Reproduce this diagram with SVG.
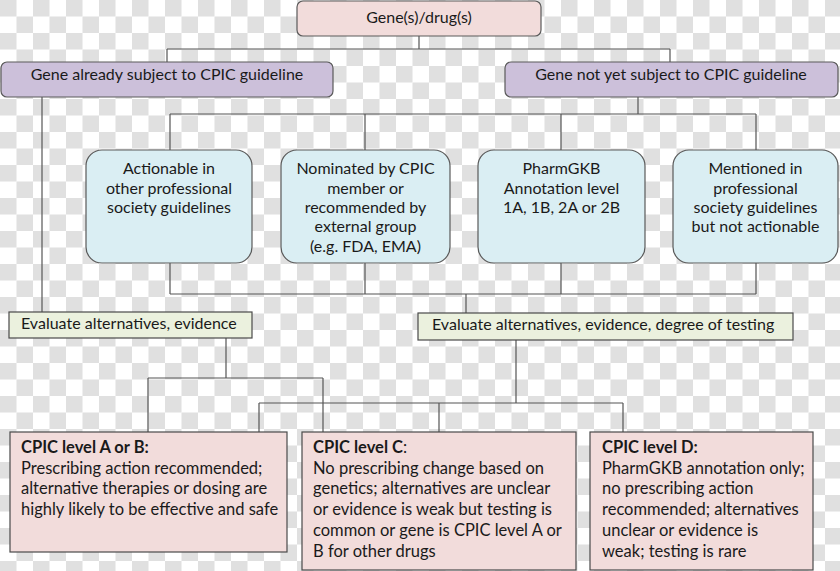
<svg xmlns="http://www.w3.org/2000/svg" width="840" height="571" viewBox="0 0 840 571">
<defs>
<pattern id="chk" width="33" height="33" patternUnits="userSpaceOnUse">
<rect width="33" height="33" fill="#ffffff"/>
<rect width="16.5" height="16.5" fill="#e0e0e0"/>
<rect x="16.5" y="16.5" width="16.5" height="16.5" fill="#e0e0e0"/>
</pattern>
</defs>
<style>
text{font-family:"Lato","Liberation Sans",sans-serif;fill:#1a1a1a;font-size:16px}
.c{text-anchor:middle}
.pink{fill:#f2dcdb;stroke:#5a5a5a;stroke-width:1.2}
.purple{fill:#ccc0da;stroke:#5a5a5a;stroke-width:1.2}
.blue{fill:#daeef3;stroke:#5a5a5a;stroke-width:1.2}
.green{fill:#ebf1de;stroke:#4a4a4a;stroke-width:1.2}
.lvl{fill:#f2dcdb;stroke:#4a4a4a;stroke-width:1.2}
.b{font-size:16.5px}
.bd{font-weight:bold}
#connectors path{fill:none;stroke:#555;stroke-width:1.2}
</style>
<rect width="840" height="571" fill="url(#chk)"/>
<g id="connectors">
<path d="M419,36V49M167,49H670M167,49V62M670,49V62"/>
<path d="M42,97V312"/>
<path d="M638,97V114M170,114H756M170,114V150M365,114V150M561,114V150M756,114V150"/>
<path d="M170,263V294M365,263V294M561,263V294M756,263V294M170,294H756M466,294V313"/>
<path d="M226,338V378M148,378H323M148,378V432M323,378V432"/>
<path d="M516,340V403M259,403H623M259,403V432M439,403V432M623,403V432"/>
</g>
<g id="n-top">
<rect class="pink" x="297" y="1" width="244" height="35" rx="6"/>
<text class="c" x="419" y="23">Gene(s)/drug(s)</text>
</g>
<g id="n-already">
<rect class="purple" x="1" y="62" width="332" height="35" rx="6"/>
<text class="c" x="167" y="80">Gene already subject to CPIC guideline</text>
</g>
<g id="n-notyet">
<rect class="purple" x="505" y="62" width="333" height="35" rx="6"/>
<text class="c" x="671" y="80">Gene not yet subject to CPIC guideline</text>
</g>
<g id="n-actionable">
<rect class="blue" x="86" y="150" width="166" height="113" rx="16"/>
<text class="c" x="169" y="174">Actionable in</text>
<text class="c" x="169" y="193.5">other professional</text>
<text class="c" x="169" y="213">society guidelines</text>
</g>
<g id="n-nominated">
<rect class="blue" x="281" y="150" width="169" height="113" rx="16"/>
<text class="c" x="365.5" y="174">Nominated by CPIC</text>
<text class="c" x="365.5" y="193.5">member or</text>
<text class="c" x="365.5" y="213">recommended by</text>
<text class="c" x="365.5" y="232">external group</text>
<text class="c" x="365.5" y="251.5">(e.g. FDA, EMA)</text>
</g>
<g id="n-pharmgkb">
<rect class="blue" x="478" y="150" width="167" height="113" rx="16"/>
<text class="c" x="561.5" y="174">PharmGKB</text>
<text class="c" x="561.5" y="193.5">Annotation level</text>
<text class="c" x="561.5" y="213">1A, 1B, 2A or 2B</text>
</g>
<g id="n-mentioned">
<rect class="blue" x="673" y="150" width="165" height="113" rx="16"/>
<text class="c" x="755.5" y="174">Mentioned in</text>
<text class="c" x="755.5" y="193.5">professional</text>
<text class="c" x="755.5" y="213">society guidelines</text>
<text class="c" x="755.5" y="232">but not actionable</text>
</g>
<g id="n-eval1">
<rect class="green" x="9" y="312" width="243" height="26"/>
<text x="21" y="328.5">Evaluate alternatives, evidence</text>
</g>
<g id="n-eval2">
<rect class="green" x="418" y="313" width="375" height="27"/>
<text x="432" y="329.5">Evaluate alternatives, evidence, degree of testing</text>
</g>
<g id="n-levelAB">
<rect class="lvl" x="10" y="432" width="277" height="120"/>
<text class="b bd" x="21" y="453">CPIC level A or B:</text>
<text class="b" x="21" y="473.5">Prescribing action recommended;</text>
<text class="b" x="21" y="494">alternative therapies or dosing are</text>
<text class="b" x="21" y="515">highly likely to be effective and safe</text>
</g>
<g id="n-levelC">
<rect class="lvl" x="302" y="432" width="274" height="138"/>
<text class="b" x="313" y="452.5"><tspan class="bd">CPIC level C</tspan>:</text>
<text class="b" x="313" y="473.5">No prescribing change based on</text>
<text class="b" x="313" y="494">genetics; alternatives are unclear</text>
<text class="b" x="313" y="515">or evidence is weak but testing is</text>
<text class="b" x="313" y="536">common or gene is CPIC level A or</text>
<text class="b" x="313" y="556.5">B for other drugs</text>
</g>
<g id="n-levelD">
<rect class="lvl" x="590" y="432" width="223" height="138"/>
<text class="b bd" x="602" y="452.5">CPIC level D:</text>
<text class="b" x="602" y="473.5">PharmGKB annotation only;</text>
<text class="b" x="602" y="494">no prescribing action</text>
<text class="b" x="602" y="515">recommended; alternatives</text>
<text class="b" x="602" y="536">unclear or evidence is</text>
<text class="b" x="602" y="556.5">weak; testing is rare</text>
</g>
</svg>
